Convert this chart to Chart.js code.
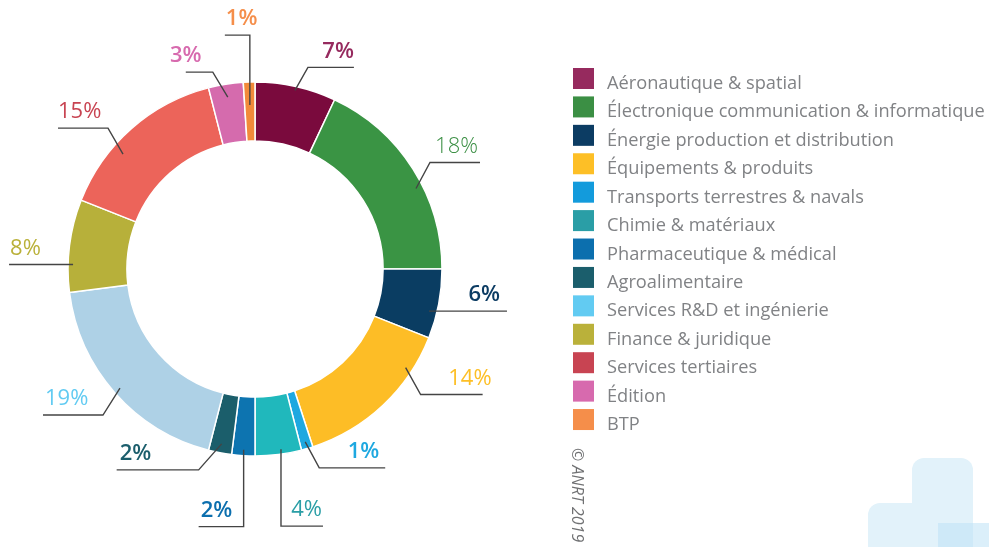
<!DOCTYPE html>
<html>
<head>
<meta charset="utf-8">
<script src="https://cdn.jsdelivr.net/npm/chart.js@4/dist/chart.umd.min.js"></script>
<style>
  html, body { margin: 0; padding: 0; background: #fff; }
  #wrap { position: relative; width: 989px; height: 547px; }
</style>
</head>
<body>
<div id="wrap"><canvas id="myChart" width="989" height="547"></canvas></div>
<script>
const categories = [
	"Aéronautique & spatial",
	"Électronique communication & informatique",
	"Énergie production et distribution",
	"Équipements & produits",
	"Transports terrestres & navals",
	"Chimie & matériaux",
	"Pharmaceutique & médical",
	"Agroalimentaire",
	"Services R&D et ingénierie",
	"Finance & juridique",
	"Services tertiaires",
	"Édition",
	"BTP",
];
const shares = [7, 18, 6, 14, 1, 4, 2, 2, 19, 8, 15, 3, 1];

const sliceColors = [
	"#7a0a3d", "#3a9444", "#0a3d62", "#fdbd26", "#1ea8e0", "#20b8bc", "#0d74b0",
	"#1b5e6b", "#aed1e6", "#b7b03a", "#ec645a", "#d56bad", "#f28a3a",
];
const legendColors = [
	"#962a5e", "#3b8f44", "#0c3c63", "#fdbf26", "#139bdc", "#2a9ea6", "#0c6fae",
	"#1b5e6c", "#62cbf2", "#bab13a", "#c84452", "#d76aae", "#f58e4a",
];
const labelColors = [
	"#962a5e", "#3b8f44", "#0c3c63", "#fdbf26", "#1ea8e0", "#2a9ea6", "#0c6fae",
	"#1b5e6c", "#62cbf2", "#bab13a", "#c84452", "#d76aae", "#f58e4a",
];

// leader line layout: where on the slice it starts, the elbow and the horizontal run
const leaders = [
	{ frac: 0.5, inset: 4, elbow: [13, -23], len: 46, tx: 0, align: "right", w: 600 },
	{ frac: 0.59, inset: 7, elbow: [14, -26], len: 50, tx: -2, align: "right", w: 300 },
	{ frac: 0.63, inset: 8, elbow: [0, 0], len: 78, tx: -7, align: "right", w: 600 },
	{ frac: 0.23, inset: 7, elbow: [15, 27], len: 62, tx: 9, align: "right", w: 500 },
	{ frac: 0.5, inset: 7, elbow: [14, 26], len: 66, tx: -6, align: "right", w: 600 },
	{ frac: 0.43, inset: 5, elbow: [0, 77], len: 42, tx: -1, align: "right", w: 500 },
	{ frac: 0.5, inset: 6, elbow: [0, 77], len: -45, tx: 2, align: "left", w: 600 },
	{ frac: 0.5, inset: 9, elbow: [-23, 26], len: -82, tx: 3, align: "left", w: 600 },
	{ frac: 0.5, inset: 7, elbow: [-17, 27], len: -60, tx: 2, align: "left", w: 400 },
	{ frac: 0.3, inset: 5, elbow: [0, 0], len: -64, tx: 1, align: "left", w: 500 },
	{ frac: 0.36, inset: 12, elbow: [-15, -26], len: -50, tx: 0, align: "left", w: 500 },
	{ frac: 0.5, inset: 13, elbow: [-15, -25], len: -27, tx: 0, align: "center", w: 600 },
	{ frac: 0.5, inset: 23, elbow: [0, -70], len: -25, tx: 1, align: "left", w: 600 },
];

const FONT = "'Open Sans', sans-serif";

const backdrop = {
	id: "backdrop",
	beforeDraw(chart) {
		const c = chart.ctx;
		c.save();
		c.fillStyle = "#e2f2fa";
		c.beginPath();
		c.roundRect(912, 458, 61, 110, 12);
		c.fill();
		c.beginPath();
		c.roundRect(868, 503, 105, 70, 12);
		c.fill();
		c.fillStyle = "rgba(190, 225, 245, 0.55)";
		c.fillRect(938, 523, 51, 24);
		c.restore();
	},
};

const leaderLabels = {
	id: "leaderLabels",
	afterDraw(chart) {
		const c = chart.ctx;
		const arcs = chart.getDatasetMeta(0).data;
		c.save();
		arcs.forEach((arc, i) => {
			const L = leaders[i];
			const p = arc.getProps(["x", "y", "startAngle", "endAngle", "outerRadius"], true);
			const a = p.startAngle + L.frac * (p.endAngle - p.startAngle);
			const r = p.outerRadius - L.inset;
			const x0 = p.x + r * Math.cos(a);
			const y0 = p.y + r * Math.sin(a);
			const x1 = x0 + L.elbow[0];
			const y1 = y0 + L.elbow[1];
			const x2 = x1 + L.len;
			c.strokeStyle = "#444444";
			c.lineWidth = 1.4;
			c.beginPath();
			c.moveTo(x0, y0);
			c.lineTo(x1, y1);
			c.lineTo(x2, y1);
			c.stroke();
			c.fillStyle = labelColors[i];
			c.font = `${L.w} 22px ${FONT}`;
			c.textAlign = L.align;
			c.textBaseline = "middle";
			c.fillText(shares[i] + "%", x2 + L.tx, y1 - 16);
		});

		// legend, text sized so the longest entry ends near the right edge
		c.textAlign = "left";
		c.textBaseline = "alphabetic";
		c.font = `500 17px ${FONT}`;
		const widest = Math.max(...categories.map((n) => c.measureText(n).width));
		const size = (17 * 378) / widest;
		c.font = `500 ${size.toFixed(2)}px ${FONT}`;
		categories.forEach((name, i) => {
			const y = 68 + i * 28.42;
			c.fillStyle = legendColors[i];
			c.fillRect(573, y, 21, 21);
			c.fillStyle = "#808285";
			c.fillText(name, 607, y + 21);
		});

		// copyright
		c.translate(572, 448);
		c.rotate(Math.PI / 2);
		c.font = `italic 400 16px ${FONT}`;
		c.fillStyle = "#707173";
		c.fillText("© ANRT 2019", 0, 0);
		c.restore();
	},
};

const ctx = document.getElementById("myChart").getContext("2d");
const myChart = new Chart(ctx, {
	type: "doughnut",
	data: {
		labels: categories,
		datasets: [
			{
				data: shares,
				backgroundColor: sliceColors,
				borderColor: "#ffffff",
				borderWidth: 1.5,
			},
		],
	},
	options: {
		responsive: false,
		animation: false,
		cutout: "68.5%",
		layout: {
			padding: { left: 67.25, right: 546.25, top: 81.25, bottom: 90.25 },
		},
		plugins: {
			legend: { display: false },
			tooltip: { enabled: false },
		},
	},
	plugins: [backdrop, leaderLabels],
});
</script>
</body>
</html>
